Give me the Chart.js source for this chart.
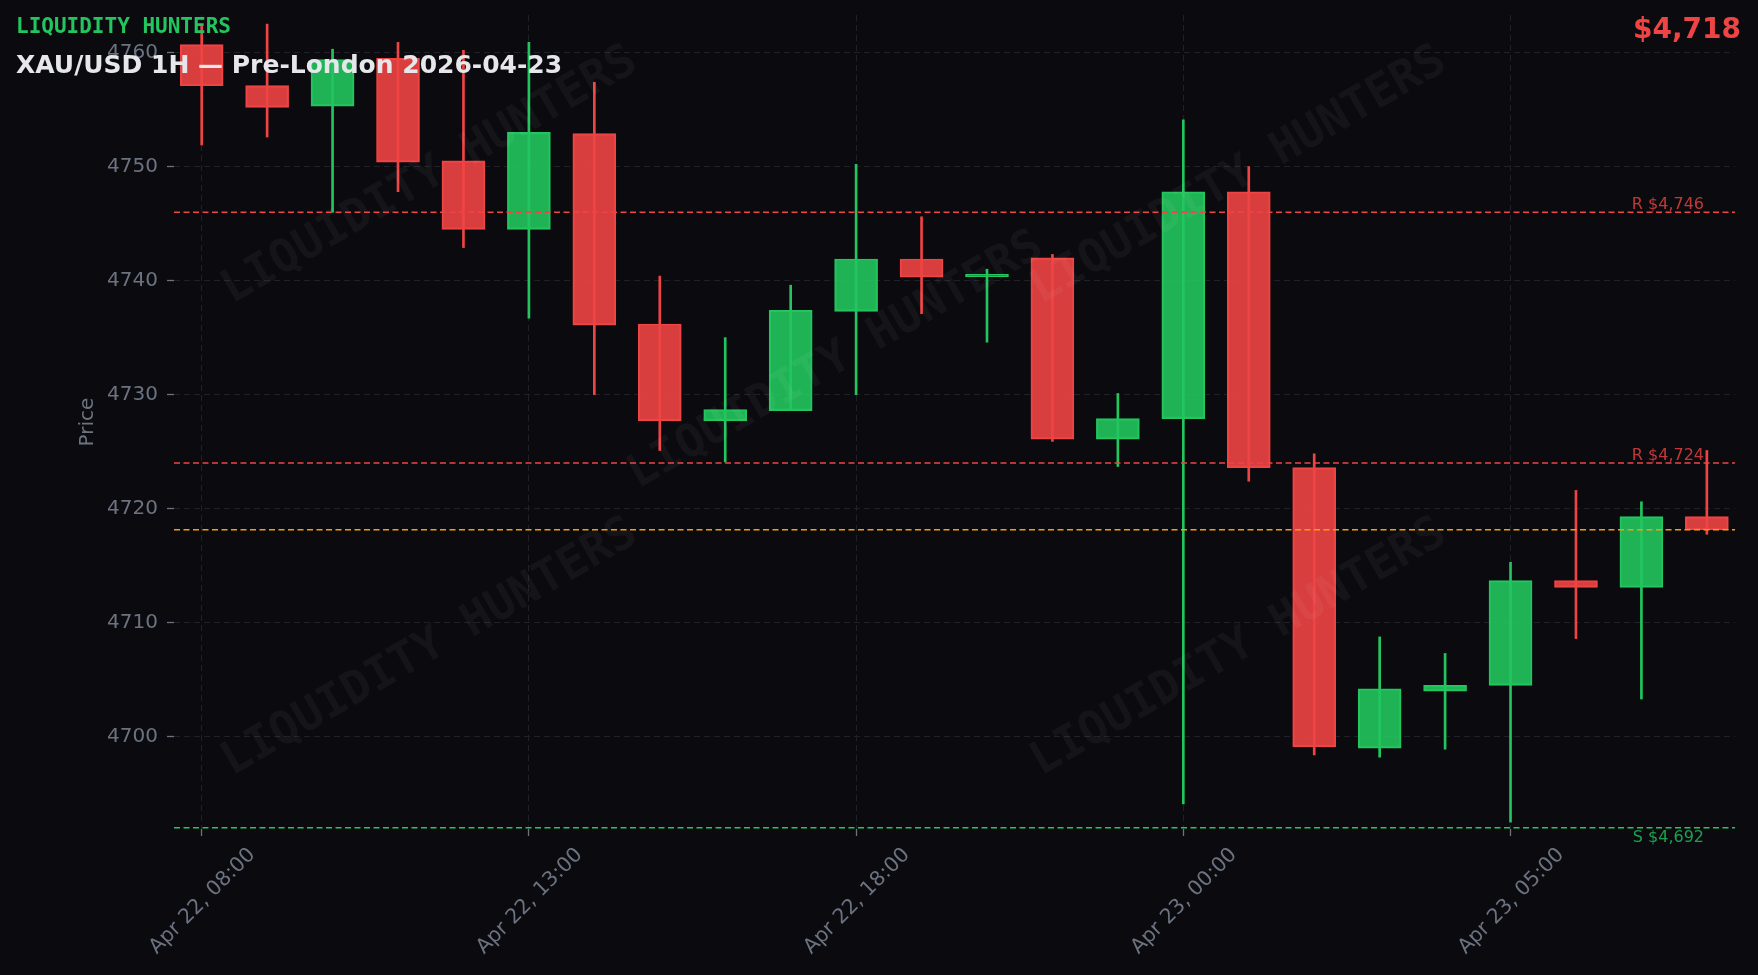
<!DOCTYPE html>
<html>
<head>
<meta charset="utf-8">
<title>XAU/USD 1H</title>
<script src="https://cdn.jsdelivr.net/npm/chart.js@4.4.1/dist/chart.umd.min.js"></script>
<style>
  html, body { margin: 0; padding: 0; background: #0b0b0f; }
  #wrap { width: 1758px; height: 975px; position: relative; }
</style>
</head>
<body>
<div id="wrap"><canvas id="candleChart"></canvas></div>
<script>
// hourly candles, one per index (no 23:00 bar)
const timeLabels = [
  'Apr 22, 08:00', 'Apr 22, 09:00', 'Apr 22, 10:00', 'Apr 22, 11:00', 'Apr 22, 12:00',
  'Apr 22, 13:00', 'Apr 22, 14:00', 'Apr 22, 15:00', 'Apr 22, 16:00', 'Apr 22, 17:00',
  'Apr 22, 18:00', 'Apr 22, 19:00', 'Apr 22, 20:00', 'Apr 22, 21:00', 'Apr 22, 22:00',
  'Apr 23, 00:00', 'Apr 23, 01:00', 'Apr 23, 02:00', 'Apr 23, 03:00', 'Apr 23, 04:00',
  'Apr 23, 05:00', 'Apr 23, 06:00', 'Apr 23, 07:00', 'Apr 23, 08:00'
];
const openPrices  = [4760.7, 4757.1, 4755.3, 4759.5, 4750.5, 4744.5, 4752.9, 4736.2, 4727.7, 4728.6,
                     4737.3, 4741.9, 4740.35, 4742.0, 4726.1, 4727.9, 4747.8, 4723.6, 4699.0, 4704.0,
                     4704.5, 4713.7, 4713.1, 4719.3];
const highPrices  = [4762.4, 4762.5, 4760.3, 4760.9, 4760.2, 4760.9, 4757.4, 4740.4, 4735.0, 4739.6,
                     4750.2, 4745.6, 4741.0, 4742.3, 4730.1, 4754.1, 4750.0, 4724.8, 4708.75, 4707.3,
                     4715.3, 4721.6, 4720.6, 4725.1];
const lowPrices   = [4751.9, 4752.6, 4746.0, 4747.8, 4742.9, 4736.7, 4730.0, 4725.1, 4724.1, 4728.6,
                     4730.0, 4737.1, 4734.6, 4725.9, 4723.7, 4694.1, 4722.4, 4698.4, 4698.2, 4698.9,
                     4692.5, 4708.6, 4703.3, 4717.75];
const closePrices = [4757.1, 4755.2, 4759.4, 4750.4, 4744.5, 4753.0, 4736.1, 4727.7, 4728.7, 4737.4,
                     4741.9, 4740.3, 4740.55, 4726.1, 4727.9, 4747.8, 4723.6, 4699.1, 4704.2, 4704.5,
                     4713.7, 4713.1, 4719.3, 4718.15];

const resistanceLevels = [4746, 4724];
const supportLevels = [4692];
const xTickIdx = [0, 5, 10, 15, 20];
const yTickValues = [4700, 4710, 4720, 4730, 4740, 4750, 4760];

const UP = '#22c55e';
const DOWN = '#ef4444';
const lastPrice = closePrices[closePrices.length - 1];
const fmt = v => '$' + Math.round(v).toLocaleString('en-US');
const isUp = i => closePrices[i] >= openPrices[i];

// watermark centres (px)
const watermarkSpots = [[430, 176], [836, 361], [1239, 176], [430, 648], [1239, 648]];

const overlay = {
  id: 'overlay',
  beforeDraw(chart) {
    const ctx = chart.ctx;
    ctx.save();
    ctx.fillStyle = '#0b0b0f';
    ctx.fillRect(0, 0, chart.width, chart.height);
    ctx.restore();
  },
  afterDatasetsDraw(chart) {
    const { ctx, chartArea: area, scales: { y } } = chart;

    // faint watermark
    ctx.save();
    ctx.font = 'bold 46px "DejaVu Sans Mono"';
    ctx.fillStyle = 'rgba(255,255,255,0.045)';
    ctx.textAlign = 'center';
    ctx.textBaseline = 'middle';
    watermarkSpots.forEach(([px, py]) => {
      ctx.save();
      ctx.translate(px, py);
      ctx.rotate(-Math.PI / 6);
      ctx.fillText('LIQUIDITY HUNTERS', 0, 0);
      ctx.restore();
    });
    ctx.restore();

    // level lines
    const hline = (val, color) => {
      const py = y.getPixelForValue(val);
      ctx.save();
      ctx.strokeStyle = color;
      ctx.lineWidth = 1.5;
      ctx.setLineDash([6, 3.5]);
      ctx.beginPath();
      ctx.moveTo(area.left, py);
      ctx.lineTo(area.right, py);
      ctx.stroke();
      ctx.restore();
    };
    resistanceLevels.forEach(v => hline(v, DOWN));
    supportLevels.forEach(v => hline(v, UP));
    hline(lastPrice, '#f59e0b');
  },
  afterDraw(chart) {
    const { ctx, chartArea: area, scales: { y } } = chart;
    ctx.save();
    ctx.font = '16px "DejaVu Sans"';
    ctx.textAlign = 'right';
    ctx.textBaseline = 'alphabetic';
    ctx.fillStyle = 'rgba(239,68,68,0.8)';
    resistanceLevels.forEach(v => {
      ctx.fillText('R ' + fmt(v), area.right - 31, y.getPixelForValue(v) - 3);
    });
    ctx.fillStyle = 'rgba(34,197,94,0.8)';
    supportLevels.forEach(v => {
      ctx.fillText('S ' + fmt(v), area.right - 31, y.getPixelForValue(v) + 14.5);
    });

    // header texts
    ctx.textAlign = 'left';
    ctx.fillStyle = UP;
    ctx.font = 'bold 21px "DejaVu Sans Mono"';
    ctx.fillText('LIQUIDITY HUNTERS', 16, 33);
    ctx.fillStyle = '#e5e7eb';
    ctx.font = 'bold 25px "DejaVu Sans"';
    ctx.fillText('XAU/USD 1H \u2014 Pre-London 2026-04-23', 16, 73);
    ctx.textAlign = 'right';
    ctx.fillStyle = DOWN;
    ctx.font = 'bold 28px "DejaVu Sans"';
    ctx.fillText(fmt(lastPrice), 1741, 38);
    ctx.restore();
  }
};

const ctx = document.getElementById('candleChart').getContext('2d');
const chart = new Chart(ctx, {
  type: 'bar',
  data: {
    datasets: [
      {
        label: 'Body',
        data: timeLabels.map((_, i) => ({ x: i, y: [openPrices[i], closePrices[i]] })),
        backgroundColor: c => isUp(c.dataIndex) ? 'rgba(34,197,94,0.9)' : 'rgba(239,68,68,0.9)',
        borderColor: c => isUp(c.dataIndex) ? UP : DOWN,
        borderWidth: 1.5,
        borderSkipped: false,
        barThickness: 43,
        grouped: false,
        order: 1
      },
      {
        label: 'Wick',
        data: timeLabels.map((_, i) => ({ x: i, y: [lowPrices[i], highPrices[i]] })),
        backgroundColor: c => isUp(c.dataIndex) ? UP : DOWN,
        borderWidth: 0,
        barThickness: 2,
        grouped: false,
        order: 2
      }
    ]
  },
  options: {
    responsive: true,
    maintainAspectRatio: false,
    animation: false,
    layout: { padding: { left: 0, right: 23, top: 15, bottom: 0 } },
    plugins: {
      legend: { display: false },
      tooltip: { enabled: false }
    },
    scales: {
      x: {
        type: 'linear',
        min: -0.423,
        max: 23.43,
        offset: false,
        afterBuildTicks: s => { s.ticks = xTickIdx.map(v => ({ value: v })); },
        afterFit: s => { s.height = 146; s.paddingLeft = 0; s.paddingRight = 0; },
        grid: {
          offset: false,
          color: '#202029',
          lineWidth: 1,
          tickLength: 7,
          tickColor: '#6b7280',
          tickWidth: 1.3,
          tickBorderDash: []
        },
        border: { display: false, dash: [6, 4] },
        ticks: {
          autoSkip: false,
          minRotation: 45,
          maxRotation: 45,
          labelOffset: 50.5,
          padding: 7,
          color: '#6b7280',
          font: { family: 'DejaVu Sans', size: 20.5 },
          callback: v => timeLabels[v]
        }
      },
      y: {
        min: 4691.9,
        max: 4763.3,
        beginAtZero: false,
        afterBuildTicks: s => { s.ticks = yTickValues.map(v => ({ value: v })); },
        afterFit: s => { s.width = 174; s.paddingTop = 0; s.paddingBottom = 0; },
        grid: {
          color: '#202029',
          lineWidth: 1,
          tickLength: 7,
          tickColor: '#6b7280',
          tickWidth: 1.3,
          tickBorderDash: []
        },
        border: { display: false, dash: [6, 4] },
        ticks: {
          padding: 9,
          color: '#6b7280',
          font: { family: 'DejaVu Sans', size: 20 },
          callback: v => String(v)
        },
        title: {
          display: true,
          text: 'Price',
          color: '#6b7280',
          font: { family: 'DejaVu Sans', size: 20 },
          padding: { top: 76, bottom: 0 }
        }
      }
    }
  },
  plugins: [overlay]
});
</script>
</body>
</html>
